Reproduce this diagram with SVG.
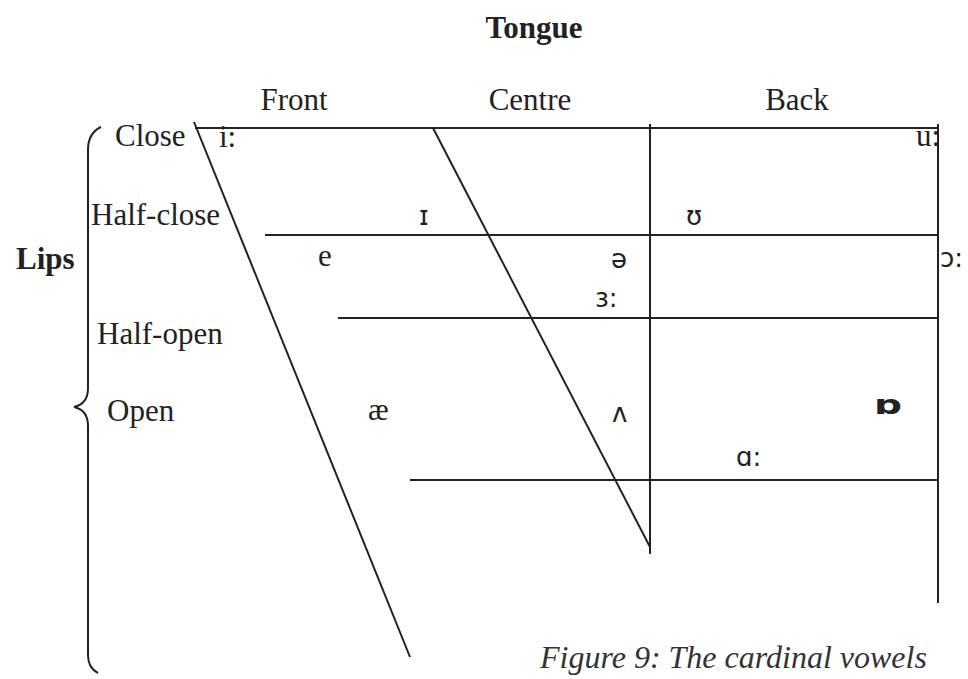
<svg xmlns="http://www.w3.org/2000/svg" width="968" height="679" viewBox="0 0 968 679">
<style>
.ln{stroke:#222;stroke-width:2;fill:none}
.lb{font-family:"Liberation Serif","Times New Roman",serif;font-size:31px;fill:#222}
.b{font-weight:bold}
.sym{font-family:"DejaVu Sans","Liberation Sans",sans-serif;font-size:26px;fill:#222}
.cap{font-family:"Liberation Serif","Times New Roman",serif;font-size:32px;font-style:italic;fill:#333}
</style>
<rect width="968" height="679" fill="#fff"/>
<g id="connectors">
<line class="ln" x1="195" y1="128" x2="938" y2="128"/>
<line class="ln" x1="265" y1="235" x2="938" y2="235"/>
<line class="ln" x1="338" y1="318" x2="938" y2="318"/>
<line class="ln" x1="410" y1="480" x2="938" y2="480"/>
<line class="ln" x1="650" y1="124" x2="650" y2="554"/>
<line class="ln" x1="938" y1="124" x2="938" y2="603"/>
<line class="ln" x1="194" y1="122" x2="410" y2="657"/>
<line class="ln" x1="433" y1="128" x2="650" y2="547"/>
<path class="ln" d="M101,127 Q88,133 88,150 L88,388 Q88,404 74,407 Q88,410 88,426 L88,655 Q88,668 98,673"/>
</g>
<g id="title"><text class="lb b" x="534" y="38" text-anchor="middle" font-size="32">Tongue</text></g>
<g id="lips"><text class="lb b" x="16" y="269">Lips</text></g>
<g id="front"><text class="lb" x="294" y="110" text-anchor="middle">Front</text></g>
<g id="centre"><text class="lb" x="530" y="110" text-anchor="middle">Centre</text></g>
<g id="back"><text class="lb" x="797" y="110" text-anchor="middle">Back</text></g>
<g id="close"><text class="lb" x="115" y="146">Close</text></g>
<g id="half-close"><text class="lb" x="91" y="225">Half-close</text></g>
<g id="half-open"><text class="lb" x="97" y="344">Half-open</text></g>
<g id="open"><text class="lb" x="107" y="421">Open</text></g>
<g id="v-i"><text class="lb" x="219" y="147">i:</text></g>
<g id="v-u"><text class="lb" x="916" y="146">u:</text></g>
<g id="v-I"><text class="sym" x="419" y="225">ɪ</text></g>
<g id="v-U"><text class="sym" x="686" y="225">ʊ</text></g>
<g id="v-e"><text class="lb" x="318" y="266">e</text></g>
<g id="v-schwa"><text class="sym" x="611" y="268">ə</text></g>
<g id="v-open-o"><text class="sym" x="940" y="267">ɔ:</text></g>
<g id="v-er"><text class="sym" x="595" y="307">ɜ:</text></g>
<g id="v-ae"><text class="lb" x="368" y="420">æ</text></g>
<g id="v-wedge"><text class="sym" x="612" y="422">ʌ</text></g>
<g id="v-turned-a"><text class="sym b" x="874" y="414" font-size="26" textLength="28" lengthAdjust="spacingAndGlyphs">ɒ</text></g>
<g id="v-a"><text class="sym" x="736" y="466">ɑ:</text></g>
<g id="caption"><text class="cap" x="540" y="668">Figure 9: The cardinal vowels</text></g>
</svg>
